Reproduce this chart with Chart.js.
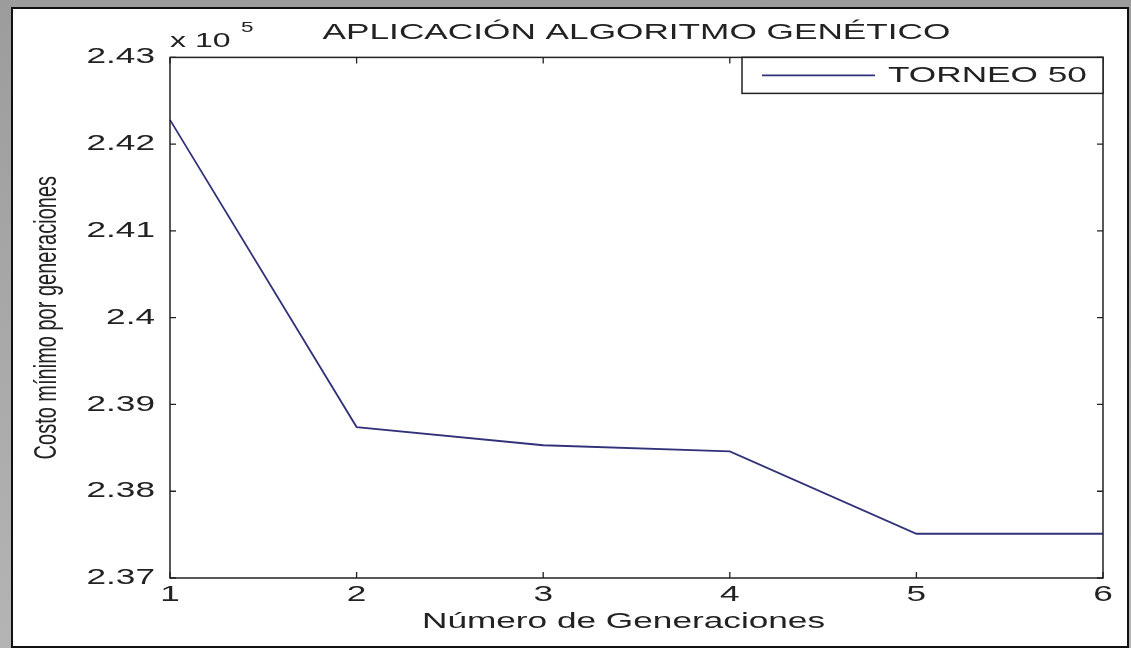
<!DOCTYPE html>
<html>
<head>
<meta charset="utf-8">
<script src="https://cdn.jsdelivr.net/npm/chart.js@4"></script>
<style>
  html, body { margin: 0; padding: 0; }
  body {
    width: 1131px; height: 648px; overflow: hidden; position: relative;
    background: linear-gradient(#9c9c9c, #b4b4b4);
  }
  #paper {
    position: absolute; left: 11px; top: 7px; width: 1114px; height: 637px;
    background: #fff; border: 2px solid #111;
  }
  #chart { position: absolute; left: 0; top: 0; }
</style>
</head>
<body>
<div id="paper"></div>
<canvas id="chart" width="1131" height="648"></canvas>
<script>
// data
const generations = ['1', '2', '3', '4', '5', '6'];
const costoMinimo = [242280, 238740, 238530, 238460, 237510, 237510];
const seriesLabel = 'TORNEO 50';
const yMin = 237000, yMax = 243000, yStep = 1000;

const FONT = '"Liberation Sans", Arial, sans-serif';
const INK = '#222';
const LINE = '#32327a';
const SX = 1.6; // the original figure was stretched sideways, text too

const ctx = document.getElementById('chart').getContext('2d');
// stretch text horizontally around its anchor point
const rawFill = ctx.fillText.bind(ctx);
const rawMeasure = ctx.measureText.bind(ctx);
ctx.fillText = function (text, x, y) {
  this.save();
  this.translate(x, y);
  this.scale(SX, 1);
  rawFill(text, 0, 0);
  this.restore();
};
ctx.measureText = function (text) {
  const m = rawMeasure(text);
  return {
    width: m.width * SX,
    actualBoundingBoxAscent: m.actualBoundingBoxAscent,
    actualBoundingBoxDescent: m.actualBoundingBoxDescent,
    actualBoundingBoxLeft: m.actualBoundingBoxLeft * SX,
    actualBoundingBoxRight: m.actualBoundingBoxRight * SX
  };
};

// matlab style box, inward ticks, exponent, axis titles and legend
const matlabBox = {
  id: 'matlabBox',
  afterDraw(chart) {
    const c = chart.ctx;
    const a = chart.chartArea;
    const xs = chart.scales.x, ys = chart.scales.y;
    c.save();
    c.strokeStyle = INK;
    c.lineWidth = 1.5;
    c.strokeRect(a.left, a.top, a.right - a.left, a.bottom - a.top);

    c.lineWidth = 1.3;
    c.beginPath();
    xs.ticks.forEach((t, i) => {
      const x = xs.getPixelForTick(i);
      c.moveTo(x, a.bottom); c.lineTo(x, a.bottom - 6);
      c.moveTo(x, a.top); c.lineTo(x, a.top + 6);
    });
    ys.ticks.forEach(t => {
      const y = ys.getPixelForValue(t.value);
      c.moveTo(a.left, y); c.lineTo(a.left + 6, y);
      c.moveTo(a.right, y); c.lineTo(a.right - 6, y);
    });
    c.stroke();

    // x 10^5
    c.fillStyle = INK;
    c.textBaseline = 'middle';
    c.textAlign = 'left';
    c.font = '20px ' + FONT;
    c.fillText('x 10', a.left, a.top - 16);
    c.font = '14px ' + FONT;
    c.fillText('5', a.left + 71, a.top - 29);

    // x axis title, sits a bit left of centre in the original
    c.textAlign = 'center';
    c.font = '22px ' + FONT;
    c.fillText('Número de Generaciones', (a.left + a.right) / 2 - 13, a.bottom + 44);

    // y axis title, stretched across its height like the original
    c.save();
    c.translate(47, (a.top + a.bottom) / 2);
    c.scale(SX, 1);
    c.rotate(-Math.PI / 2);
    c.textAlign = 'center';
    c.font = '20px ' + FONT;
    rawFill('Costo mínimo por generaciones', 0, 0);
    c.restore();

    // legend box
    const lw = 361, lh = 36;
    const lx = a.right - lw, ly = a.top;
    c.fillStyle = '#fff';
    c.fillRect(lx, ly, lw, lh);
    c.strokeStyle = INK;
    c.lineWidth = 1.5;
    c.strokeRect(lx, ly, lw, lh);
    const ds = chart.data.datasets[0];
    c.strokeStyle = ds.borderColor;
    c.lineWidth = 1.8;
    c.beginPath();
    c.moveTo(lx + 20, ly + lh / 2);
    c.lineTo(lx + 133, ly + lh / 2);
    c.stroke();
    c.fillStyle = INK;
    c.textAlign = 'left';
    c.font = '22px ' + FONT;
    c.fillText(ds.label, lx + 146, ly + lh / 2 + 1);
    c.restore();
  }
};

new Chart(ctx, {
  type: 'line',
  data: {
    labels: generations,
    datasets: [{
      label: seriesLabel,
      data: costoMinimo,
      borderColor: LINE,
      borderWidth: 1.8,
      pointRadius: 0,
      tension: 0,
      fill: false
    }]
  },
  options: {
    responsive: false,
    animation: false,
    layout: { padding: { left: 0, right: 28, top: 0, bottom: 10 } },
    plugins: {
      legend: { display: false },
      tooltip: { enabled: false },
      title: {
        display: true,
        text: 'APLICACIÓN ALGORITMO GENÉTICO',
        fullSize: false,
        color: INK,
        font: { family: FONT, size: 22, weight: 'normal' },
        padding: { top: 20, bottom: 11 }
      }
    },
    scales: {
      x: {
        type: 'category',
        offset: false,
        grid: { display: false, drawTicks: false },
        border: { display: false },
        ticks: { color: INK, font: { family: FONT, size: 22 }, padding: 4, maxRotation: 0 },
        afterFit: s => { s.height = 60; }
      },
      y: {
        min: yMin,
        max: yMax,
        grid: { display: false, drawTicks: false },
        border: { display: false },
        ticks: {
          stepSize: yStep,
          color: INK,
          font: { family: FONT, size: 22 },
          padding: 15,
          callback: v => String(parseFloat((v / 1e5).toFixed(2)))
        },
        afterFit: s => { s.width = 170; }
      }
    }
  },
  plugins: [matlabBox]
});
</script>
</body>
</html>
